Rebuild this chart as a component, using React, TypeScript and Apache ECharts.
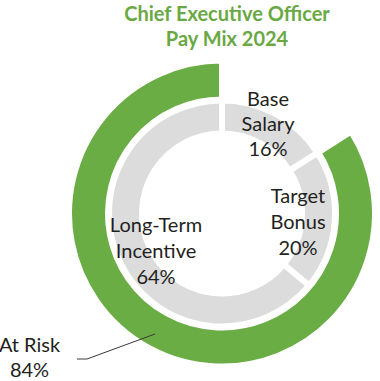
import React, { useEffect, useRef } from "react";
import * as echarts from "echarts";

const titleLines = ["Chief Executive Officer", "Pay Mix 2024"];
const categories = ["Base\nSalary", "Target\nBonus", "Long-Term\nIncentive"];
const values = [16, 20, 64];
const riskLabel = "At Risk";
const riskValue = 84;

const GREEN = "#6aad45";
const TITLE_GREEN = "#6aa843";
const GRAY = "#dcdcdd";
const TEXT = "#231f20";
const FONT = "Lato, 'Open Sans', sans-serif";

export default function App() {
  const ref = useRef<HTMLDivElement>(null);
  useEffect(() => {
    document.body.style.margin = "0";
    const chart = echarts.init(ref.current!, null, { renderer: "svg" });
    const cx = 222;
    const cy = 213.5;
    const labelPos = [
      { x: 268, y: 123, lh: 25 },
      { x: 298, y: 221, lh: 26 },
      { x: 156, y: 250, lh: 26 },
    ];
    chart.setOption({
      animation: false,
      title: {
        text: titleLines.join("\n"),
        left: cx,
        top: -5,
        textAlign: "center",
        textStyle: {
          fontFamily: FONT,
          fontSize: 20,
          fontWeight: "bold",
          color: TITLE_GREEN,
          lineHeight: 25,
        },
      },
      series: [
        {
          type: "pie",
          silent: true,
          center: [cx, cy],
          radius: [114, 153],
          startAngle: 90,
          clockwise: true,
          label: { show: false },
          labelLine: { show: false },
          data: [
            { value: 100 - riskValue, name: "Not at risk", itemStyle: { color: "rgba(0,0,0,0)", borderWidth: 0 } },
            { value: riskValue, name: riskLabel, itemStyle: { color: GREEN, borderColor: "#ffffff", borderWidth: 6 } },
          ],
        },
        {
          type: "pie",
          silent: true,
          center: [cx, cy],
          radius: [80, 113],
          startAngle: 90,
          clockwise: true,
          label: { show: false },
          labelLine: { show: false },
          itemStyle: { color: GRAY, borderColor: "#ffffff", borderWidth: 6 },
          data: categories.map((c, i) => ({ name: c, value: values[i] })),
        },
      ],
      graphic: [
        ...categories.map((c, i) => ({
          type: "text",
          x: labelPos[i].x,
          y: labelPos[i].y,
          z: 100,
          silent: true,
          style: {
            text: `${c}\n${values[i]}%`,
            fontFamily: FONT,
            fontSize: 20,
            lineHeight: labelPos[i].lh,
            fill: TEXT,
            align: "center",
            verticalAlign: "middle",
          },
        })),
        {
          type: "text",
          x: 29.5,
          y: 356.5,
          z: 100,
          silent: true,
          style: {
            text: `${riskLabel}\n${riskValue}%`,
            fontFamily: FONT,
            fontSize: 20,
            lineHeight: 25,
            fill: TEXT,
            align: "center",
            verticalAlign: "middle",
          },
        },
        {
          type: "polyline",
          z: 100,
          silent: true,
          shape: { points: [[77, 359], [87, 359], [155, 334]] },
          style: { stroke: "#3a3a3a", lineWidth: 1, fill: "none" },
        },
      ],
    });
    return () => chart.dispose();
  }, []);
  return <div ref={ref} style={{ width: 380, height: 381 }} />;
}
